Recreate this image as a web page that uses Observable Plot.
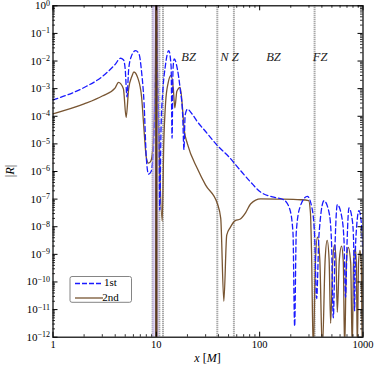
<!DOCTYPE html>
<html><head><meta charset="utf-8">
<script src="https://cdn.jsdelivr.net/npm/d3@7"></script>
<script src="https://cdn.jsdelivr.net/npm/@observablehq/plot@0.6"></script>
<style>body{margin:0;background:#fff}#chart{width:374px;height:374px}</style>
</head><body><div id="chart"></div>
<script>
// ---- data ----
const firstX = [1,2,3,4,4.5,4.8,5.0,5.2,5.4,5.7,6.3,6.8,7.2,7.6,8.0,8.4,8.9,9.3,9.6,9.85,10.0,10.2,10.5,10.8,11.1,11.6,12.2,13.2,13.9,14.2,14.5,14.9,16,17,18,18.5,19,20,22,25,30,39,50,65,82,102,137,170,195,210,218,226,245,289,320,340,356,375,419,470,495,516,538,564,620,655,678,702,731,790,812,829,848,914,965,1000];
const firstR = [3.9e-4,1.1e-3,2.75e-3,7.6e-3,1.26e-2,1.12e-2,5.0e-3,5.0e-4,5.0e-3,1.4e-2,2.4e-2,1.8e-2,4.0e-3,3.2e-4,3.2e-6,8.0e-7,1.0e-6,4.0e-6,6.3e-5,1e-2,3.2,1e-2,1e-4,4e-8,3.2e-5,1e-3,6.3e-3,2.4e-2,6.3e-3,1.6e-5,5e-3,1.2e-2,5e-3,1e-3,1e-4,6.3e-6,1.1e-4,1.8e-4,1.26e-4,6.3e-5,2.8e-5,8.7e-6,3.5e-6,1.1e-6,4.1e-7,1.8e-7,1.17e-7,9.5e-8,4.5e-8,6.3e-9,2.5e-12,6.3e-9,5e-8,1.26e-7,5e-8,5e-9,2.5e-11,5e-9,8.7e-8,3.2e-8,3.2e-9,5e-12,3.2e-9,6.3e-8,2.5e-8,3.2e-9,2.8e-11,3.2e-9,4.8e-8,1.6e-8,2.5e-9,9e-12,2.5e-9,3.8e-8,1.26e-8,1e-9];
const secondX = [1,2,3,4,4.3,4.8,5.1,5.4,5.8,6.06,6.6,7.2,7.6,8.0,8.4,8.9,9.3,9.7,10.0,10.3,10.7,11.4,11.8,12.3,13.0,13.9,14.6,15.1,15.8,17.0,18.0,18.6,20,25,30,39,42,45,48,52,58,65,73,82,102,150,250,298,310,318,330,345,362,382,404,430,450,470,486,510,530,548,564,590,620,645,664,690,720,760,787,810,840,862,881,905,935,962,984,1000];
const secondR = [1.23e-4,2.8e-4,5.4e-4,1.07e-3,1.7e-3,1e-3,9.1e-5,1e-3,2.8e-3,4e-3,2.5e-3,5e-4,3.2e-5,3.2e-6,2e-6,2.5e-6,1e-5,1e-3,3.2,1e-3,3.2e-6,1.6e-8,1e-5,3.2e-4,1.6e-3,3e-3,1e-3,2e-4,8e-4,1.12e-3,1.6e-4,3.2e-5,1e-5,1.26e-6,3.2e-7,6.8e-8,2e-8,2e-11,5e-9,9.5e-9,1.66e-8,1.9e-8,3.2e-8,6.8e-8,1.02e-7,1e-7,9.5e-8,8.9e-8,3.2e-8,1e-9,3.2e-13,3.2e-10,4.2e-9,6.3e-10,3.2e-13,6.3e-10,3.2e-9,6.3e-10,3.2e-12,6.3e-10,2.2e-9,6.3e-10,8e-12,6.3e-10,2e-9,5e-10,3.2e-13,5e-10,1.8e-9,5e-10,3.2e-13,5e-10,1.6e-9,5e-10,3.2e-13,5e-10,1.4e-9,5e-10,3.2e-13,3.2e-10];
const bandFrom = [9.2], bandTo = [10.7];
const resonanceX = [10];
const zoneLinesX = [9.2, 10.7, 11.6, 38.9, 56.3, 340];
const zoneLabels = ["BZ", "N Z", "BZ", "FZ"];
const zoneLabelX = [20.5, 51, 136, 385];
const zoneLabelY = [1.35e-2, 1.35e-2, 1.35e-2, 1.35e-2];
const yTickValues = [1,1e-1,1e-2,1e-3,1e-4,1e-5,1e-6,1e-7,1e-8,1e-9,1e-10,1e-11,1e-12];
const xTickValues = [1, 10, 100, 1000];
const xTickLabels = ["1", "10", "100", "1000"];
const seriesNames = ["1st", "2nd"];

// ---- tables ----
const first = firstX.map((x, i) => ({x, r: firstR[i]}));
const second = secondX.map((x, i) => ({x, r: secondR[i]}));
const band = bandFrom.map((f, i) => ({from: f, to: bandTo[i]}));
const labels = zoneLabels.map((t, i) => ({t, x: zoneLabelX[i], y: zoneLabelY[i]}));
const yMinor = [], xMinor = [];
for (const d of yTickValues.slice(1)) for (let k = 2; k <= 9; k++) yMinor.push(d * k);
for (const d of xTickValues.slice(0, -1)) for (let k = 2; k <= 9; k++) xMinor.push(d * k);

const fmtY = d => "10^" + Math.round(Math.log10(d));

const W = 374, H = 374, mL = 52.5, mR = 11.5, mT = 5.3, mB = 37.3;
const iw = W - mL - mR, ih = H - mT - mB;
const BLUE = "#1a1aff", BROWN = "#785532";
const major = 5, minor = 2.5;

const chart = Plot.plot({
  width: W, height: H,
  marginLeft: mL, marginRight: mR, marginTop: mT, marginBottom: mB,
  style: {fontFamily: "'Liberation Serif', serif", fontSize: "10px", background: "white", color: "black"},
  x: {type: "log", domain: [1, 1000]},
  y: {type: "log", domain: [1e-12, 1]},
  marks: [
    Plot.ruleX(zoneLinesX, {stroke: "#8c8c8c", strokeWidth: 2, strokeDasharray: "1,1"}),
    Plot.line(second, {x: "x", y: "r", stroke: BROWN, strokeWidth: 1.3, curve: "monotone-x", clip: true}),
    Plot.line(first, {x: "x", y: "r", stroke: BLUE, strokeWidth: 1.3, strokeDasharray: "5,3", curve: "monotone-x", clip: true}),
    Plot.rect(band, {x1: "from", x2: "to", fill: "#c4b2ee", fillOpacity: 0.55}),
    Plot.ruleX(resonanceX, {stroke: "#5a3a20", strokeWidth: 2.4}),
    Plot.text(labels, {x: "x", y: "y", text: "t", fontStyle: "italic", fontSize: 12.5, fill: "#222"}),
    // inward ticks on all four sides
    Plot.ruleY(yTickValues, {insetRight: iw - major, stroke: "black"}),
    Plot.ruleY(yTickValues, {insetLeft: iw - major, stroke: "black"}),
    Plot.ruleY(yMinor, {insetRight: iw - minor, stroke: "black", strokeWidth: 0.8}),
    Plot.ruleY(yMinor, {insetLeft: iw - minor, stroke: "black", strokeWidth: 0.8}),
    Plot.ruleX(xTickValues, {insetTop: ih - major, stroke: "black"}),
    Plot.ruleX(xTickValues, {insetBottom: ih - major, stroke: "black"}),
    Plot.ruleX(xMinor, {insetTop: ih - minor, stroke: "black", strokeWidth: 0.8}),
    Plot.ruleX(xMinor, {insetBottom: ih - minor, stroke: "black", strokeWidth: 0.8}),
    Plot.axisY(yTickValues, {tickSize: 0, tickPadding: 3, tickFormat: fmtY, label: null, fontSize: 11}),
    Plot.axisX(xTickValues, {tickSize: 0, tickPadding: 3, tickFormat: d => xTickLabels[xTickValues.indexOf(d)], label: null, fontSize: 10.5}),
    Plot.frame({stroke: "black", strokeWidth: 1.2})
  ]
});
document.getElementById("chart").appendChild(chart);

const svg = d3.select(chart);
const font = "'Liberation Serif', serif";

// superscript exponents on the y tick labels
svg.selectAll('g[aria-label="y-axis tick label"] text').each(function () {
  const t = d3.select(this);
  const s = t.text();
  if (!s.includes("^")) return;
  const [base, exp] = s.split("^");
  t.text(null);
  t.append("tspan").text(base);
  t.append("tspan").attr("dy", "-0.45em").attr("font-size", "8px").text(exp.replace("-", "\u2212"));
});

// ---- axis titles and legend (layout only) ----
const yl = svg.append("text").attr("transform", `translate(11,${mT + ih / 2}) rotate(-90)`)
  .attr("text-anchor", "middle").attr("dominant-baseline", "middle")
  .style("font-family", font).style("font-size", "12.5px");
yl.append("tspan").text("|");
yl.append("tspan").attr("font-style", "italic").text("R");
yl.append("tspan").text("|");
const xl = svg.append("text").attr("x", mL + iw / 2).attr("y", 362)
  .attr("text-anchor", "middle").style("font-family", font).style("font-size", "12px");
xl.append("tspan").attr("font-style", "italic").text("x");
xl.append("tspan").text(" [");
xl.append("tspan").attr("font-style", "italic").text("M");
xl.append("tspan").text("]");

const lg = svg.append("g");
lg.append("rect").attr("x", 70).attr("y", 276.5).attr("width", 61.5).attr("height", 25.8)
  .attr("rx", 2).attr("fill", "white").attr("stroke", "#777").attr("stroke-width", 0.9);
const colors = [BLUE, BROWN], dashes = ["5,2", null], ys = [283.5, 298];
seriesNames.forEach((name, i) => {
  const ln = lg.append("line").attr("x1", 75).attr("x2", 103).attr("y1", ys[i]).attr("y2", ys[i])
    .attr("stroke", colors[i]).attr("stroke-width", 1.3);
  if (dashes[i]) ln.attr("stroke-dasharray", dashes[i]);
  lg.append("text").attr("x", 110.5).attr("y", ys[i]).attr("dominant-baseline", "middle")
    .style("font-family", font).style("font-size", "11px").text(name);
});
</script>
</body></html>
